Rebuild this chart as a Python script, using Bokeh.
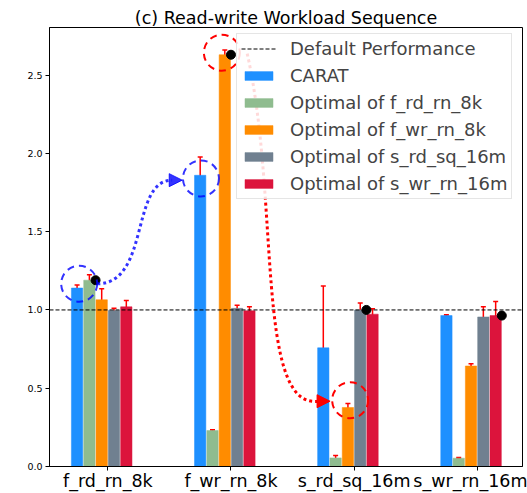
from bokeh.plotting import figure
from bokeh.models import (Range1d, FixedTicker, PrintfTickFormatter, Whisker, TeeHead,
                          ColumnDataSource, Arrow, NormalHead, Legend, LegendItem)
from bokeh.embed import file_html
from bokeh.resources import INLINE

# ---------------- data ----------------
workloads = ["f_rd_rn_8k", "f_wr_rn_8k", "s_rd_sq_16m", "s_wr_rn_16m"]
series_names = ["CARAT", "Optimal of f_rd_rn_8k", "Optimal of f_wr_rn_8k",
                "Optimal of s_rd_sq_16m", "Optimal of s_wr_rn_16m"]
carat = [1.14, 1.86, 0.758, 0.964]
carat_err = [0.02, 0.117, 0.395, 0.005]
opt_f_rd_rn_8k = [1.19, 0.23, 0.055, 0.053]
opt_f_rd_rn_8k_err = [0.035, 0.005, 0.015, 0.004]
opt_f_wr_rn_8k = [1.065, 2.63, 0.377, 0.642]
opt_f_wr_rn_8k_err = [0.07, 0.03, 0.025, 0.015]
opt_s_rd_sq_16m = [0.996, 1.01, 1.0, 0.955]
opt_s_rd_sq_16m_err = [0.015, 0.02, 0.045, 0.065]
opt_s_wr_rn_16m = [1.02, 0.995, 0.973, 0.964]
opt_s_wr_rn_16m_err = [0.04, 0.025, 0.035, 0.09]
default_performance = 1.0
y_ticks = [0.0, 0.5, 1.0, 1.5, 2.0, 2.5]

# annotation marks (data coordinates)
blue_circle_x = [-0.233, 0.756]
blue_circle_y = [1.167, 1.840]
red_circle_x = [0.926, 1.968]
red_circle_y = [2.643, 0.423]
blue_curve_x = [-0.087, 0.344, 0.181, 0.522, 0.604]   # start, ctrl0, ctrl1, end, arrow tip
blue_curve_y = [1.167, 1.167, 1.829, 1.829, 1.829]
red_curve_x = [1.132, 1.398, 1.196, 1.708, 1.805]
red_curve_y = [2.637, 1.702, 0.366, 0.417, 0.417]

values = [carat, opt_f_rd_rn_8k, opt_f_wr_rn_8k, opt_s_rd_sq_16m, opt_s_wr_rn_16m]
errors = [carat_err, opt_f_rd_rn_8k_err, opt_f_wr_rn_8k_err, opt_s_rd_sq_16m_err, opt_s_wr_rn_16m_err]
colors = ["#1E90FF", "#8FBC8F", "#FF8C00", "#708090", "#DC143C"]

FONT = "DejaVu Sans"
bar_w = 0.1
offsets = [-0.25, -0.15, -0.05, 0.05, 0.15]

p = figure(width=527, height=493, output_backend="svg", toolbar_location=None,
           x_range=Range1d(-0.474, 3.368), y_range=Range1d(0, 2.804),
           min_border_left=49, min_border_right=5, min_border_top=27, min_border_bottom=25)
p.background_fill_color = "white"
p.border_fill_color = "white"
p.outline_line_color = "black"
p.outline_line_width = 1
p.xgrid.visible = False
p.ygrid.visible = False

p.title.text = "(c) Read-write Workload Sequence"
p.title.text_font = FONT
p.title.text_font_size = "17.5px"
p.title.text_font_style = "normal"
p.title.text_color = "black"
p.title.text_line_height = 0.9
p.title.align = "center"
p.title.standoff = 0
p.title.offset = 0

xs = list(range(len(workloads)))
bar_renderers = []
for k in range(5):
    x = [i + offsets[k] for i in xs]
    src = ColumnDataSource(dict(x=x, top=values[k],
                                upper=[v + e for v, e in zip(values[k], errors[k])],
                                lower=[v - e for v, e in zip(values[k], errors[k])]))
    r = p.vbar(x="x", top="top", width=bar_w * 0.92, bottom=0, source=src,
               fill_color=colors[k], line_color=colors[k], line_alpha=0.5, line_width=1)
    bar_renderers.append(r)
    w = Whisker(base="x", upper="upper", lower="lower", source=src, dimension="height",
                line_color="red", line_width=1.5,
                upper_head=TeeHead(size=5, line_color="red", line_width=1.5),
                lower_head=TeeHead(size=5, line_color="red", line_width=1.5))
    p.add_layout(w)

# default performance line
x0, x1 = p.x_range.start, p.x_range.end
line_r = p.line(x=[x0, x1], y=[default_performance, default_performance],
                line_color="black", line_dash="4 2", line_width=1)

# black dots: optimal bar of each workload
dot_x = [i + offsets[i + 1] + bar_w / 2 for i in xs]
dot_y = [values[i + 1][i] for i in xs]
p.scatter(x=dot_x, y=dot_y, size=9, color="black")

# dashed circles
p.circle(x=blue_circle_x, y=blue_circle_y, radius=18, radius_units="screen",
         fill_color=None, line_color="blue", line_alpha=0.8, line_width=2, line_dash="7 5")
p.circle(x=red_circle_x, y=red_circle_y, radius=18, radius_units="screen",
         fill_color=None, line_color="red", line_width=2, line_dash="7 5")

# curved dotted arrows
p.bezier(x0=[blue_curve_x[0]], y0=[blue_curve_y[0]], cx0=[blue_curve_x[1]], cy0=[blue_curve_y[1]],
         cx1=[blue_curve_x[2]], cy1=[blue_curve_y[2]], x1=[blue_curve_x[3]], y1=[blue_curve_y[3]],
         line_color="blue", line_alpha=0.8, line_width=3, line_dash="3 3")
p.add_layout(Arrow(end=NormalHead(size=13, fill_color="blue", line_color="blue", fill_alpha=0.8, line_alpha=0.8),
                   x_start=blue_curve_x[3], y_start=blue_curve_y[3],
                   x_end=blue_curve_x[4], y_end=blue_curve_y[4], line_color="blue", line_alpha=0.8, line_width=3))
p.bezier(x0=[red_curve_x[0]], y0=[red_curve_y[0]], cx0=[red_curve_x[1]], cy0=[red_curve_y[1]],
         cx1=[red_curve_x[2]], cy1=[red_curve_y[2]], x1=[red_curve_x[3]], y1=[red_curve_y[3]],
         line_color="red", line_width=3, line_dash="3 3")
p.add_layout(Arrow(end=NormalHead(size=13, fill_color="red", line_color="red"),
                   x_start=red_curve_x[3], y_start=red_curve_y[3],
                   x_end=red_curve_x[4], y_end=red_curve_y[4], line_color="red", line_width=3))

# axes
p.xaxis.ticker = FixedTicker(ticks=xs)
p.xaxis.major_label_overrides = {i: w for i, w in enumerate(workloads)}
p.xaxis.major_label_text_font = FONT
p.xaxis.major_label_text_font_size = "17.5px"
p.xaxis.major_label_text_color = "black"
p.xaxis.major_label_text_line_height = 0.9
p.xaxis.major_label_standoff = 0
p.xaxis.major_tick_out = 4
p.xaxis.major_tick_in = 0
p.xaxis.minor_tick_line_color = None
p.xaxis.axis_line_color = "black"

p.yaxis.ticker = FixedTicker(ticks=y_ticks)
p.yaxis.formatter = PrintfTickFormatter(format="%.1f")
p.yaxis.major_label_text_font = FONT
p.yaxis.major_label_text_font_size = "9.5px"
p.yaxis.major_label_text_color = "black"
p.yaxis.major_label_standoff = 3
p.yaxis.major_tick_out = 4
p.yaxis.major_tick_in = 0
p.yaxis.minor_tick_line_color = None
p.yaxis.axis_line_color = "black"

items = [LegendItem(label="Default Performance", renderers=[line_r])]
for name, r in zip(series_names, bar_renderers):
    items.append(LegendItem(label=name, renderers=[r]))
legend = Legend(items=items, location=(187, 267), padding=4, spacing=6,
                glyph_width=35, glyph_height=11, label_height=21, label_standoff=14,
                label_text_font=FONT, label_text_font_size="18px",
                border_line_color="#cccccc", border_line_width=1,
                background_fill_color="white", background_fill_alpha=0.85)
p.add_layout(legend)

open("out.html", "w").write(file_html(p, INLINE))
